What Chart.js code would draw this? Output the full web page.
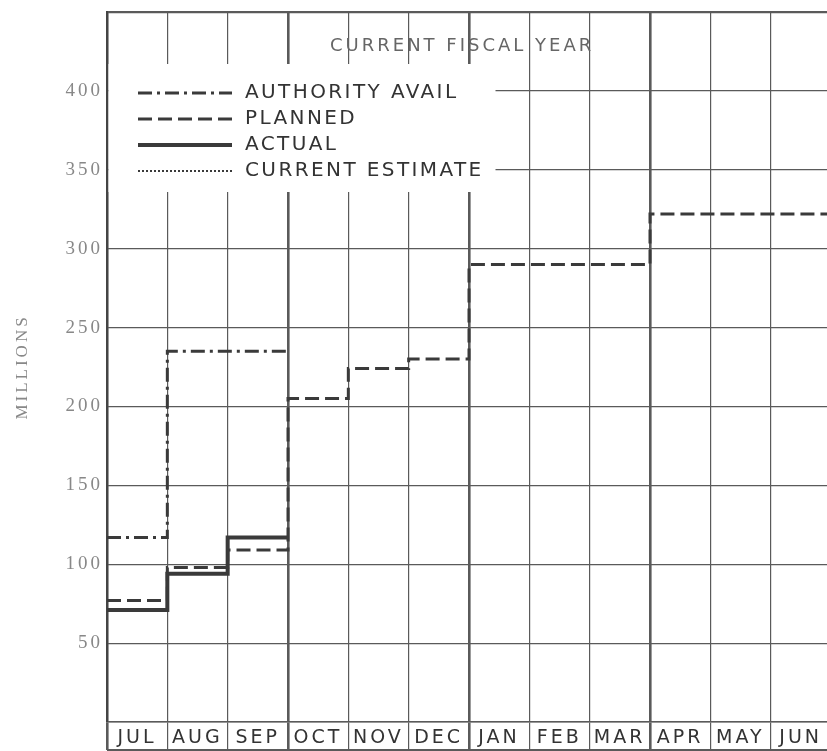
<!DOCTYPE html>
<html>
<head>
<meta charset="utf-8">
<script src="https://cdn.jsdelivr.net/npm/chart.js@4.4.0/dist/chart.umd.min.js"></script>
<style>
html, body { margin: 0; padding: 0; background: #fff; overflow: hidden; }
canvas { display: block; }
</style>
</head>
<body>
<canvas id="plotarea" width="834" height="751"></canvas>
<script>
// months of the fiscal year
const months = ['JUL', 'AUG', 'SEP', 'OCT', 'NOV', 'DEC', 'JAN', 'FEB', 'MAR', 'APR', 'MAY', 'JUN'];

// millions, one value per month
const authorityAvail = [117, 235, 235];
const planned = [77, 98, 109, 205, 224, 230, 290, 290, 290, 322, 322, 322];
const actual = [71, 94, 117];
const currentEstimate = [];

// y labels that are printed (0 and 450 are left blank)
const yLabels = [50, 100, 150, 200, 250, 300, 350, 400];

const chartTitle = 'CURRENT FISCAL YEAR';

// month i spans x=i..i+1, so each series is closed at the end of its last month
function steps(arr) {
  const pts = arr.map((v, i) => ({ x: i, y: v }));
  if (arr.length) pts.push({ x: arr.length, y: arr[arr.length - 1] });
  return pts;
}

const ink = '#3a3a3a';
const gridInk = '#5a5a5a';
const sans = '"DejaVu Sans", sans-serif';
const serif = '"Liberation Serif", serif';

// legend box + title drawn like the printed form
const paperLegend = {
  id: 'paperLegend',
  beforeDraw(chart) {
    chart.ctx.letterSpacing = '3px';
  },
  beforeDatasetsDraw(chart) {
    const { ctx, chartArea } = chart;
    ctx.save();
    ctx.fillStyle = '#fff';
    ctx.fillRect(chartArea.left + 1.5, 64, 494 - chartArea.left, 128);

    ctx.textBaseline = 'middle';
    ctx.letterSpacing = '3px';
    ctx.font = '18px ' + sans;
    ctx.fillStyle = '#666';
    ctx.fillText(chartTitle, 330, 46);

    chart.data.datasets.forEach((ds, i) => {
      const y = 93 + i * 26;
      ctx.strokeStyle = ds.borderColor;
      ctx.lineWidth = ds.borderWidth;
      ctx.setLineDash(ds.borderDash || []);
      ctx.beginPath();
      ctx.moveTo(138, y);
      ctx.lineTo(232, y);
      ctx.stroke();
      ctx.setLineDash([]);
      ctx.letterSpacing = '2.4px';
      ctx.font = '20px ' + sans;
      ctx.fillStyle = '#333';
      ctx.fillText(ds.label, 245, y);
    });

    // bottom edge of the month row
    ctx.strokeStyle = gridInk;
    ctx.lineWidth = 2;
    ctx.beginPath();
    ctx.moveTo(chartArea.left, chartArea.bottom + 28);
    ctx.lineTo(chartArea.right, chartArea.bottom + 28);
    ctx.stroke();
    ctx.restore();
  }
};

const config = {
  type: 'line',
  data: {
    datasets: [
      {
        label: 'AUTHORITY AVAIL',
        data: steps(authorityAvail),
        borderColor: ink,
        borderWidth: 3,
        borderDash: [14, 5, 3, 5],
        stepped: true,
        pointRadius: 0
      },
      {
        label: 'PLANNED',
        data: steps(planned),
        borderColor: ink,
        borderWidth: 3,
        borderDash: [14, 6],
        stepped: true,
        pointRadius: 0
      },
      {
        label: 'ACTUAL',
        data: steps(actual),
        borderColor: ink,
        borderWidth: 4,
        stepped: true,
        pointRadius: 0
      },
      {
        label: 'CURRENT ESTIMATE',
        data: steps(currentEstimate),
        borderColor: ink,
        borderWidth: 2,
        borderDash: [2, 2],
        stepped: true,
        pointRadius: 0
      }
    ]
  },
  options: {
    responsive: false,
    animation: false,
    devicePixelRatio: 1,
    layout: { padding: { top: 12, right: 3, left: 0, bottom: 0 } },
    plugins: {
      legend: { display: false },
      tooltip: { enabled: false }
    },
    scales: {
      x: {
        type: 'linear',
        min: 0,
        max: 12,
        afterFit: scale => {
          scale.height = 29;
          scale.paddingLeft = 0;
          scale.paddingRight = 0;
        },
        afterBuildTicks: scale => {
          scale.ticks = months.map((m, i) => ({ value: i })).concat([{ value: 12 }]);
        },
        grid: {
          color: gridInk,
          lineWidth: c => (c.tick && c.tick.value % 3 === 0 ? 2.6 : 1.2),
          tickLength: 28,
          drawTicks: true
        },
        border: { display: true, color: gridInk, width: 1.5 },
        ticks: {
          callback: v => months[v] || '',
          labelOffset: 30,
          padding: -23,
          maxRotation: 0,
          autoSkip: false,
          color: '#333',
          font: { family: sans, size: 19 }
        }
      },
      y: {
        min: 0,
        max: 450,
        afterFit: scale => {
          scale.width = 107;
          scale.paddingTop = 0;
          scale.paddingBottom = 0;
        },
        afterBuildTicks: scale => {
          scale.ticks = [0].concat(yLabels, [450]).map(v => ({ value: v }));
        },
        grid: {
          color: gridInk,
          lineWidth: c => (c.tick && c.tick.value === 450 ? 2.2 : 1.2),
          drawTicks: false
        },
        border: { display: true, color: '#444', width: 2 },
        ticks: {
          callback: v => (yLabels.includes(v) ? String(v) : ''),
          padding: 4,
          color: '#888',
          font: { family: serif, size: 19 }
        },
        title: {
          display: true,
          text: 'MILLIONS',
          color: '#888',
          font: { family: serif, size: 17 },
          padding: { top: 12, bottom: 0 }
        }
      }
    }
  },
  plugins: [paperLegend]
};

const myChart = new Chart(document.getElementById('plotarea'), config);
</script>
</body>
</html>
